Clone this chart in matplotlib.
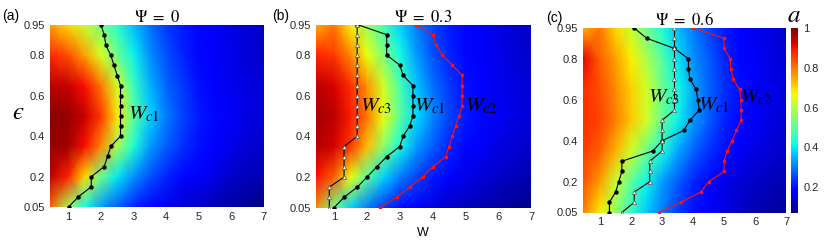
import numpy as np
import matplotlib
matplotlib.use("Agg")
import matplotlib.pyplot as plt

plt.rcParams['font.family'] = ['Liberation Sans', 'DejaVu Sans']
plt.rcParams['mathtext.fontset'] = 'stix'

# ---------------- data ----------------
W_grid = [0.43, 1.0, 1.5, 2.0, 2.5, 3.0, 3.5, 4.0, 4.5, 5.0, 5.5, 6.0, 6.5, 7.0]
eps_grid = [0.05, 0.2, 0.35, 0.5, 0.65, 0.8, 0.95]

a_psi0 = [
    [0.82, 0.58, 0.42, 0.33, 0.27, 0.22, 0.19, 0.16, 0.14, 0.13, 0.11, 0.10, 0.09, 0.08],
    [0.95, 0.88, 0.70, 0.52, 0.40, 0.32, 0.26, 0.22, 0.19, 0.17, 0.15, 0.13, 0.12, 0.11],
    [0.98, 0.97, 0.90, 0.78, 0.58, 0.43, 0.33, 0.27, 0.23, 0.20, 0.18, 0.16, 0.14, 0.13],
    [0.99, 0.98, 0.94, 0.86, 0.69, 0.50, 0.38, 0.30, 0.25, 0.21, 0.19, 0.17, 0.15, 0.14],
    [0.95, 0.94, 0.90, 0.80, 0.63, 0.46, 0.35, 0.28, 0.24, 0.20, 0.18, 0.16, 0.15, 0.14],
    [0.88, 0.84, 0.76, 0.64, 0.52, 0.41, 0.32, 0.26, 0.22, 0.19, 0.17, 0.16, 0.14, 0.13],
    [0.76, 0.70, 0.62, 0.53, 0.44, 0.36, 0.29, 0.24, 0.21, 0.19, 0.17, 0.15, 0.14, 0.13],
]
a_psi03 = [
    [0.78, 0.52, 0.38, 0.30, 0.24, 0.20, 0.17, 0.15, 0.13, 0.12, 0.11, 0.10, 0.09, 0.08],
    [0.90, 0.82, 0.66, 0.50, 0.38, 0.30, 0.25, 0.21, 0.18, 0.16, 0.14, 0.13, 0.12, 0.11],
    [0.96, 0.93, 0.86, 0.73, 0.56, 0.42, 0.33, 0.27, 0.22, 0.19, 0.17, 0.15, 0.14, 0.13],
    [0.97, 0.95, 0.89, 0.80, 0.66, 0.50, 0.39, 0.31, 0.25, 0.21, 0.19, 0.17, 0.15, 0.14],
    [0.95, 0.93, 0.87, 0.77, 0.63, 0.48, 0.37, 0.29, 0.24, 0.20, 0.18, 0.16, 0.15, 0.14],
    [0.88, 0.86, 0.78, 0.66, 0.54, 0.42, 0.33, 0.26, 0.22, 0.19, 0.17, 0.16, 0.14, 0.13],
    [0.74, 0.80, 0.68, 0.57, 0.47, 0.38, 0.30, 0.25, 0.21, 0.19, 0.17, 0.15, 0.14, 0.13],
]
a_psi06 = [
    [0.80, 0.68, 0.56, 0.45, 0.37, 0.30, 0.24, 0.20, 0.17, 0.15, 0.13, 0.11, 0.10, 0.09],
    [0.84, 0.76, 0.62, 0.50, 0.41, 0.33, 0.27, 0.22, 0.19, 0.16, 0.14, 0.13, 0.12, 0.11],
    [0.86, 0.82, 0.74, 0.63, 0.52, 0.42, 0.34, 0.28, 0.23, 0.20, 0.17, 0.15, 0.14, 0.13],
    [0.87, 0.85, 0.79, 0.72, 0.63, 0.51, 0.41, 0.33, 0.27, 0.22, 0.19, 0.17, 0.15, 0.14],
    [0.87, 0.84, 0.78, 0.71, 0.63, 0.52, 0.42, 0.34, 0.28, 0.23, 0.20, 0.17, 0.16, 0.14],
    [0.92, 0.82, 0.76, 0.68, 0.59, 0.49, 0.40, 0.32, 0.27, 0.22, 0.19, 0.17, 0.15, 0.14],
    [0.74, 0.80, 0.70, 0.62, 0.52, 0.43, 0.36, 0.30, 0.25, 0.21, 0.18, 0.16, 0.15, 0.13],
]

eps_pts = [0.05, 0.10, 0.15, 0.20, 0.25, 0.30, 0.35, 0.40, 0.45, 0.50,
           0.55, 0.60, 0.65, 0.70, 0.75, 0.80, 0.85, 0.90, 0.95]

# panel (a) Psi = 0
wc1_a = [1.0, 1.3, 1.7, 1.7, 2.1, 2.2, 2.3, 2.6, 2.6, 2.6,
         2.6, 2.6, 2.6, 2.5, 2.4, 2.3, 2.15, 2.1, 2.0]
# panel (b) Psi = 0.3
wc1_b = [1.0, 1.3, 1.7, 2.0, 2.3, 2.6, 3.0, 3.1, 3.3, 3.4,
         3.4, 3.4, 3.4, 3.1, 3.0, 2.6, 2.6, 2.6, 1.7]
wc2_b = [2.4, 2.9, 3.3, 3.7, 4.0, 4.4, 4.5, 4.6, 4.7, 4.8,
         4.9, 4.9, 4.9, 4.9, 4.6, 4.3, 4.1, 4.0, 3.5]
wc3_b = [0.85, 0.85, 0.85, 1.3, 1.3, 1.3, 1.3, 1.7, 1.7, 1.7,
         1.7, 1.7, 1.7, 1.7, 1.7, 1.7, 1.7, 1.7, 1.7]
# panel (c) Psi = 0.6
wc1_c = [1.3, 1.3, 1.5, 1.6, 1.7, 1.7, 2.7, 3.0, 3.7, 3.9,
         4.2, 4.15, 4.1, 3.9, 3.85, 3.85, 3.4, 2.5, 2.1]
wc2_c = [2.9, 3.6, 4.25, 4.5, 5.0, 5.0, 5.1, 5.25, 5.4, 5.55,
         5.55, 5.55, 5.5, 5.3, 5.22, 5.2, 5.0, 5.0, 4.0]
wc3_c = [1.7, 2.1, 2.1, 2.6, 2.6, 2.6, 3.0, 3.0, 3.0, 3.0,
         3.4, 3.4, 3.4, 3.4, 3.4, 3.4, 3.4, 3.4, 3.4]

titles = [r'$\Psi\ =\ 0$', r'$\Psi\ =\ 0.3$', r'$\Psi\ =\ 0.6$']
panel_tags = ['(a)', '(b)', '(c)']
x_ticks = [1, 2, 3, 4, 5, 6, 7]
y_ticks = [0.05, 0.2, 0.4, 0.6, 0.8, 0.95]
y_ticklabels = ['0.05', '0.2', '0.4', '0.6', '0.8', '0.95']
cbar_ticks = [0.2, 0.4, 0.6, 0.8, 1.0]
cbar_ticklabels = ['0.2', '0.4', '0.6', '0.8', '1']

# ---------------- figure ----------------
W_PX, H_PX = 830, 245
fig = plt.figure(figsize=(W_PX / 100, H_PX / 100), dpi=100)

def rect(l, t, r, b):
    return [l / W_PX, 1 - b / H_PX, (r - l) / W_PX, (b - t) / H_PX]

axes_rects = [rect(50, 25, 263.5, 207), rect(315.5, 24.5, 531, 207.5), rect(582.5, 28, 786, 212.5)]
fields = [a_psi0, a_psi03, a_psi06]

VMIN, VMAX = 0.07, 1.0
Wm, Em = np.meshgrid(np.array(W_grid), np.array(eps_grid))

label_fs = 8
axes = []
for i, (r, fld) in enumerate(zip(axes_rects, fields)):
    ax = fig.add_axes(r)
    mesh = ax.pcolormesh(Wm, Em, np.array(fld), shading='gouraud', cmap='jet',
                         vmin=VMIN, vmax=VMAX, rasterized=True)
    ax.set_xlim(0.43, 7.0)
    ax.set_ylim(0.05, 0.95)
    ax.set_xticks(x_ticks)
    ax.set_xticklabels([str(t) for t in x_ticks])
    ax.set_yticks(y_ticks)
    ax.set_yticklabels(y_ticklabels)
    ax.tick_params(direction='in', length=0, labelsize=label_fs, colors='#262626', pad=3.5)
    for s in ax.spines.values():
        s.set_visible(False)
    ax.set_title(titles[i], fontsize=12, pad=2)
    axes.append(ax)

line_kw = dict(lw=0.8)
# panel a
axes[0].plot(wc1_a, eps_pts, '-o', color='black', ms=2.2, **line_kw)
# panel b
axes[1].plot(wc1_b, eps_pts, '-o', color='black', ms=2.2, **line_kw)
axes[1].plot(wc3_b, eps_pts, '-^', color='black', mfc='white', mec='#555555',
             mew=0.5, ms=3.0, **line_kw)
axes[1].plot(wc2_b, eps_pts, '-s', color='#ff1010', ms=2.0, **line_kw)
# panel c
axes[2].plot(wc1_c, eps_pts, '-o', color='black', ms=2.2, **line_kw)
axes[2].plot(wc3_c, eps_pts, '-^', color='black', mfc='white', mec='#555555',
             mew=0.5, ms=3.0, **line_kw)
axes[2].plot(wc2_c, eps_pts, '-s', color='#ff1010', ms=2.0, **line_kw)

ann_fs = 15
axes[0].text(2.84, 0.486, r'$W_{c1}$', fontsize=ann_fs, va='baseline', ha='left')
axes[1].text(1.8, 0.523, r'$W_{c3}$', fontsize=ann_fs, va='baseline', ha='left')
axes[1].text(3.43, 0.523, r'$W_{c1}$', fontsize=ann_fs, va='baseline', ha='left')
axes[1].text(5.0, 0.523, r'$W_{c2}$', fontsize=ann_fs, va='baseline', ha='left')
axes[2].text(2.56, 0.589, r'$W_{c3}$', fontsize=ann_fs, va='baseline', ha='left')
axes[2].text(4.16, 0.548, r'$W_{c1}$', fontsize=ann_fs, va='baseline', ha='left')
axes[2].text(5.5, 0.589, r'$W_{c2}$', fontsize=ann_fs, va='baseline', ha='left')

axes[1].set_xlabel('W', fontsize=9, labelpad=3)

# panel tags
fig.text(2 / W_PX, 1 - 16 / H_PX, panel_tags[0], fontsize=10, va='center', ha='left')
fig.text(272 / W_PX, 1 - 16 / H_PX, panel_tags[1], fontsize=10, va='center', ha='left')
fig.text(546 / W_PX, 1 - 18 / H_PX, panel_tags[2], fontsize=10, va='center', ha='left')

# epsilon label (lunate epsilon)
fig.text(18 / W_PX, 1 - 112 / H_PX, '$\u03f5$', fontsize=18, va='center', ha='center')

# colorbar
cax = fig.add_axes(rect(791, 28, 798, 213))
cb = fig.colorbar(mesh, cax=cax, ticks=cbar_ticks)
cb.ax.set_yticklabels(cbar_ticklabels)
cb.ax.tick_params(length=0, labelsize=label_fs, colors='#262626', pad=4)
cb.outline.set_visible(False)
fig.text(794 / W_PX, 1 - 15 / H_PX, r'$a$', fontsize=18, va='center', ha='center')

fig.savefig('out.png', dpi=100)
